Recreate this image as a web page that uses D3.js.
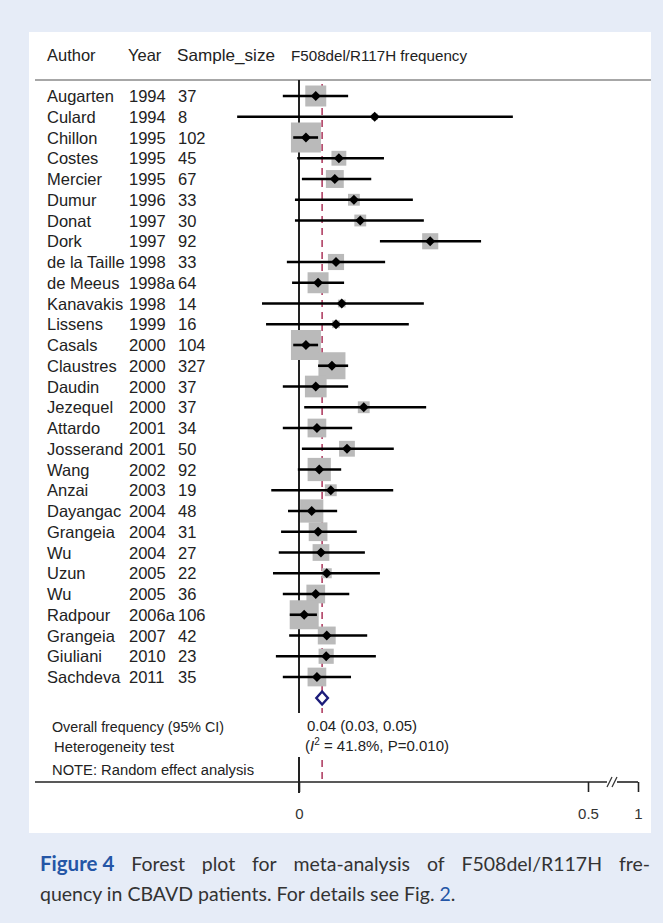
<!DOCTYPE html>
<html>
<head>
<meta charset="utf-8">
<script src="https://cdn.jsdelivr.net/npm/d3@7"></script>
<style>
  body { margin: 0; background: #e6ecf7; }
  svg { display: block; }
</style>
</head>
<body>
<svg id="chart" width="663" height="923"></svg>
<script>
// study data
const authors = ["Augarten", "Culard", "Chillon", "Costes", "Mercier", "Dumur", "Donat", "Dork",
  "de la Taille", "de Meeus", "Kanavakis", "Lissens", "Casals", "Claustres", "Daudin", "Jezequel",
  "Attardo", "Josserand", "Wang", "Anzai", "Dayangac", "Grangeia", "Wu", "Uzun", "Wu", "Radpour",
  "Grangeia", "Giuliani", "Sachdeva"];
const years = ["1994", "1994", "1995", "1995", "1995", "1996", "1997", "1997", "1998", "1998a",
  "1998", "1999", "2000", "2000", "2000", "2000", "2001", "2001", "2002", "2003", "2004", "2004",
  "2004", "2005", "2005", "2006a", "2007", "2010", "2011"];
const sizes = [37, 8, 102, 45, 67, 33, 30, 92, 33, 64, 14, 16, 104, 327, 37, 37, 34, 50, 92, 19,
  48, 31, 27, 22, 36, 106, 42, 23, 35];
const est = [0.029, 0.131, 0.012, 0.069, 0.062, 0.095, 0.106, 0.227, 0.064, 0.033, 0.074, 0.064,
  0.012, 0.057, 0.029, 0.112, 0.031, 0.083, 0.035, 0.055, 0.022, 0.033, 0.038, 0.048, 0.029,
  0.009, 0.048, 0.047, 0.031];
const lo = [-0.028, -0.107, -0.010, -0.003, 0.005, -0.007, -0.007, 0.140, -0.021, -0.012, -0.064,
  -0.057, -0.010, 0.033, -0.028, 0.009, -0.028, 0.005, -0.002, -0.048, -0.019, -0.031, -0.035,
  -0.045, -0.028, -0.016, -0.017, -0.040, -0.028];
const hi = [0.085, 0.370, 0.033, 0.147, 0.125, 0.197, 0.216, 0.315, 0.149, 0.078, 0.216, 0.190,
  0.033, 0.085, 0.085, 0.220, 0.092, 0.164, 0.073, 0.163, 0.066, 0.100, 0.114, 0.140, 0.087,
  0.031, 0.118, 0.133, 0.090];
const weights = [4.4, 0.4, 9.0, 2.2, 3.2, 1.4, 1.4, 2.6, 2.6, 4.4, 0.6, 0.6, 9.0, 7.3, 4.7, 1.4,
  3.5, 2.5, 5.4, 1.4, 5.4, 3.5, 2.8, 1.0, 3.5, 8.4, 3.2, 2.3, 3.5];
const overall = { est: 0.04, lo: 0.03, hi: 0.05 };
const tickVals = [0, 0.5, 1];

const svg = d3.select("#chart");
const font = "'Liberation Sans', Arial, sans-serif";

// white panel
svg.append("rect").attr("x", 29).attr("y", 32).attr("width", 622).attr("height", 801).attr("fill", "#fff");

// broken axis: 0..0.5 linear, then a short jump to 1
const x = d3.scaleLinear().domain([0, 0.5, 1]).range([299, 588, 638]);
const y = d3.scalePoint().domain(d3.range(authors.length)).range([96, 677]);
const box = d3.scaleSqrt().domain([0, 9]).range([0, 30]);

// header
const head = svg.append("g").attr("font-family", font).attr("fill", "#222");
head.append("text").attr("x", 47).attr("y", 61).attr("font-size", 16.5).text("Author");
head.append("text").attr("x", 128).attr("y", 61).attr("font-size", 16.5).text("Year");
head.append("text").attr("x", 177).attr("y", 61).attr("font-size", 16.5)
  .attr("textLength", 98).attr("lengthAdjust", "spacingAndGlyphs").text("Sample_size");
head.append("text").attr("x", 291).attr("y", 61).attr("font-size", 14.5)
  .attr("textLength", 176).attr("lengthAdjust", "spacingAndGlyphs").text("F508del/R117H frequency");
svg.append("line").attr("x1", 35).attr("x2", 651).attr("y1", 80).attr("y2", 80)
  .attr("stroke", "#8a8a8a").attr("stroke-width", 1.5);

// zero line, two parts around the summary text
svg.append("line").attr("x1", x(0)).attr("x2", x(0)).attr("y1", 80).attr("y2", 713)
  .attr("stroke", "#222").attr("stroke-width", 2);
svg.append("line").attr("x1", x(0)).attr("x2", x(0)).attr("y1", 757).attr("y2", 793)
  .attr("stroke", "#222").attr("stroke-width", 2);

// overall dashed line
[[84, 713], [760, 782]].forEach(([a, b]) => {
  svg.append("line").attr("x1", x(overall.est)).attr("x2", x(overall.est)).attr("y1", a).attr("y2", b)
    .attr("stroke", "#b04064").attr("stroke-width", 1.6).attr("stroke-dasharray", "7,5");
});

// study rows
const rows = svg.append("g").selectAll("g").data(authors).join("g");
rows.append("rect")
  .attr("x", (d, i) => x(est[i]) - box(weights[i]) / 2)
  .attr("y", (d, i) => y(i) - box(weights[i]) / 2)
  .attr("width", (d, i) => box(weights[i]))
  .attr("height", (d, i) => box(weights[i]))
  .attr("fill", "#bababa");
rows.append("line")
  .attr("x1", (d, i) => x(lo[i])).attr("x2", (d, i) => x(hi[i]))
  .attr("y1", (d, i) => y(i)).attr("y2", (d, i) => y(i))
  .attr("stroke", "#000").attr("stroke-width", 2.6);
rows.append("path")
  .attr("d", (d, i) => {
    const cx = x(est[i]), cy = y(i);
    return `M${cx - 5},${cy}L${cx},${cy - 5}L${cx + 5},${cy}L${cx},${cy + 5}Z`;
  })
  .attr("fill", "#000");

const labels = svg.append("g").attr("font-family", font).attr("font-size", 16.5).attr("fill", "#222");
labels.selectAll(".au").data(authors).join("text")
  .attr("x", 47).attr("y", (d, i) => y(i) + 6).text(d => d);
labels.selectAll(".yr").data(years).join("text")
  .attr("x", 129).attr("y", (d, i) => y(i) + 6).text(d => d);
labels.selectAll(".sz").data(sizes).join("text")
  .attr("x", 178).attr("y", (d, i) => y(i) + 6).text(d => d);

// pooled diamond
const oy = 698;
svg.append("path")
  .attr("d", `M${x(overall.lo)},${oy}L${x(overall.est)},${oy - 6.5}L${x(overall.hi)},${oy}L${x(overall.est)},${oy + 6.5}Z`)
  .attr("fill", "#fff").attr("stroke", "#1c1c7a").attr("stroke-width", 2.4);

// summary text
const sum = svg.append("g").attr("font-family", font).attr("font-size", 14).attr("fill", "#222");
sum.append("text").attr("x", 52).attr("y", 732).attr("textLength", 172).attr("lengthAdjust", "spacingAndGlyphs")
  .text("Overall frequency (95% CI)");
sum.append("text").attr("x", 54).attr("y", 752).attr("textLength", 120).attr("lengthAdjust", "spacingAndGlyphs")
  .text("Heterogeneity test");
sum.append("text").attr("x", 52).attr("y", 775).attr("textLength", 202).attr("lengthAdjust", "spacingAndGlyphs")
  .text("NOTE: Random effect analysis");
sum.append("text").attr("x", 307).attr("y", 731).attr("font-size", 15)
  .text(`${overall.est.toFixed(2)} (${overall.lo.toFixed(2)}, ${overall.hi.toFixed(2)})`);
const het = sum.append("text").attr("x", 305).attr("y", 751).attr("font-size", 15);
het.append("tspan").text("(");
het.append("tspan").attr("font-style", "italic").text("I");
het.append("tspan").attr("font-size", 10).attr("dy", -6).text("2");
het.append("tspan").attr("dy", 6).text(" = 41.8%, P=0.010)");

// x axis with break
const axY = 782;
svg.append("line").attr("x1", 35).attr("x2", 607).attr("y1", axY).attr("y2", axY)
  .attr("stroke", "#222").attr("stroke-width", 1.6);
svg.append("line").attr("x1", 617).attr("x2", x(1)).attr("y1", axY).attr("y2", axY)
  .attr("stroke", "#222").attr("stroke-width", 1.6);
[607, 612].forEach(bx => {
  svg.append("line").attr("x1", bx).attr("x2", bx + 5).attr("y1", axY + 5).attr("y2", axY - 5)
    .attr("stroke", "#333").attr("stroke-width", 1.2);
});
const axis = svg.append("g").attr("transform", `translate(0,${axY})`)
  .call(d3.axisBottom(x).tickValues(tickVals).tickFormat(d3.format("")).tickSize(10).tickPadding(16));
axis.select(".domain").remove();
axis.selectAll(".tick line").attr("stroke", "#222").attr("stroke-width", 1.6);
axis.selectAll(".tick text").attr("font-family", font).attr("font-size", 15).attr("fill", "#333");

// caption, justified first line
const capFont = "Lato, 'Open Sans', sans-serif";
const cap = svg.append("g").attr("font-family", capFont).attr("font-size", 19.5).attr("fill", "#333");
const line1 = ["Figure 4", "Forest", "plot", "for", "meta-analysis", "of", "F508del/R117H", "fre-"];
const left = 40, right = 650;
const words = cap.selectAll(".w").data(line1).join("text")
  .attr("y", 871)
  .attr("font-size", (d, i) => i === 0 ? 20.5 : null)
  .attr("font-weight", (d, i) => i === 0 ? "bold" : null)
  .attr("fill", (d, i) => i === 0 ? "#2456a6" : null)
  .text(d => d);
const widths = words.nodes().map(n => n.getComputedTextLength());
const gap = (right - left - d3.sum(widths)) / (line1.length - 1);
let cx = left;
words.attr("x", (d, i) => { const p = cx; cx += widths[i] + gap; return p; });
const l2 = cap.append("text").attr("x", left).attr("y", 901);
l2.append("tspan").text("quency in CBAVD patients. For details see Fig. ");
l2.append("tspan").attr("fill", "#2456a6").text("2");
l2.append("tspan").text(".");
</script>
</body>
</html>
